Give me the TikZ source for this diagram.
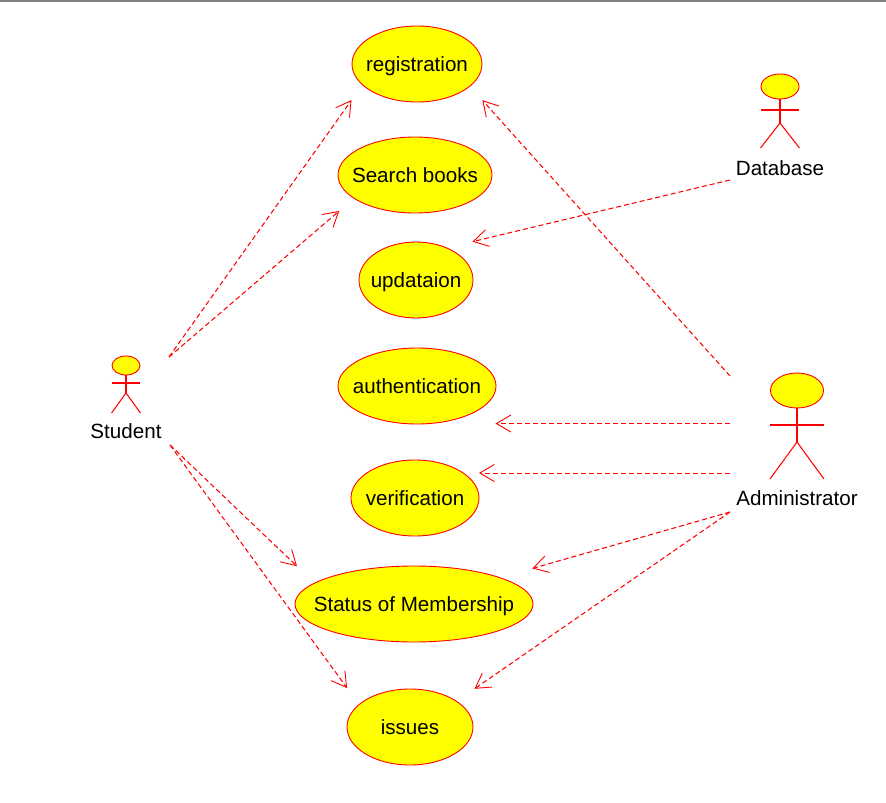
\documentclass[tikz,border=0pt]{standalone}
\usepackage{fontspec}
\setmainfont{Liberation Sans}
\usetikzlibrary{arrows.meta,shapes.geometric}
\definecolor{umlred}{RGB}{255,0,0}
\definecolor{umlyellow}{RGB}{255,255,0}
\tikzset{
  usecase/.style={ellipse, draw=umlred, fill=umlyellow, line width=0.9pt, inner sep=0pt, minimum height=76pt, text=black, text height=14.5pt, text depth=0pt, font=\fontsize{20.6}{24}\selectfont},
  actorhead/.style={ellipse, draw=umlred, fill=umlyellow, line width=0.9pt, inner sep=0pt},
  actorname/.style={inner sep=0pt, text=black, text height=14.5pt, text depth=0pt, font=\fontsize{20.6}{24}\selectfont},
  limb/.style={umlred, line width=1.05pt},
  dependency/.style={umlred, line width=1.05pt, dash pattern=on 5pt off 3pt, -{Straight Barb[length=14.5pt,width=17pt,line width=0.9pt]}}
}
\begin{document}
\begin{tikzpicture}[x=1pt, y=-1pt]
  \useasboundingbox (0,0) rectangle (886,803);
  % Window edge
  \fill[gray] (0,0) rectangle (886,1.6);
  % Use cases
  \foreach \name/\x/\y/\w/\txt in {registration/417/64/130/registration, searchbooks/415/175/154/Search books, updation/416/280/114/updataion, authentication/417/386/158/authentication, verification/415/498/128/verification, membership/414/604/238/Status of Membership, issues/410/727/126/issues} {
    \node[usecase, minimum width=\w pt] (\name) at (\x,\y) {\makebox[0pt]{\txt}};
  }
  % Actors
  \foreach \name/\x/\y/\w/\h/\arm/\hip/\foot/\ty/\txt in {student/126/365.5/28/19/383/393/413/431/Student, database/780/86.5/38/25/110/123/148/168/Database, administrator/797/390.5/53/35/425/442/479/498/Administrator} {
    \node[actorhead, minimum width=\w pt, minimum height=\h pt] (\name head) at (\x,\y) {};
    \draw[limb] (\name head.south) -- (\x,\hip);
    \draw[limb] (\name head.west |- 0,\arm) -- (\name head.east |- 0,\arm);
    \draw[limb] (\name head.west |- 0,\foot) -- (\x,\hip) -- (\name head.east |- 0,\foot);
    \node[actorname] (\name) at (\x,\ty) {\txt};
  }
  % Free ends of the connectors
  \coordinate (studentup) at (169,357);
  \coordinate (studentdown) at (170,445);
  \coordinate (databaseout) at (730,180);
  \coordinate (adminup) at (730,376);
  \coordinate (adminmid) at (authentication.295.85 -| 730,0);
  \coordinate (adminlow) at (verification.27.4 -| 730,0);
  \coordinate (admindown) at (730,512);
  % Dependencies
  \foreach \from/\to/\ang/\gap in {studentup/registration/201.2/18.5, studentup/searchbooks/201.3/19.1, studentdown/membership/168.6/24, studentdown/issues/156.8/20, databaseout/updation/46.1/26, adminup/registration/337.1/18.4, adminmid/authentication/295.85/61, adminlow/verification/27.4/15, admindown/membership/17.9/33, admindown/issues/29.1/21.5} {
    \draw[dependency, shorten >=\gap pt] (\from) -- (\to.\ang);
  }
\end{tikzpicture}
\end{document}
